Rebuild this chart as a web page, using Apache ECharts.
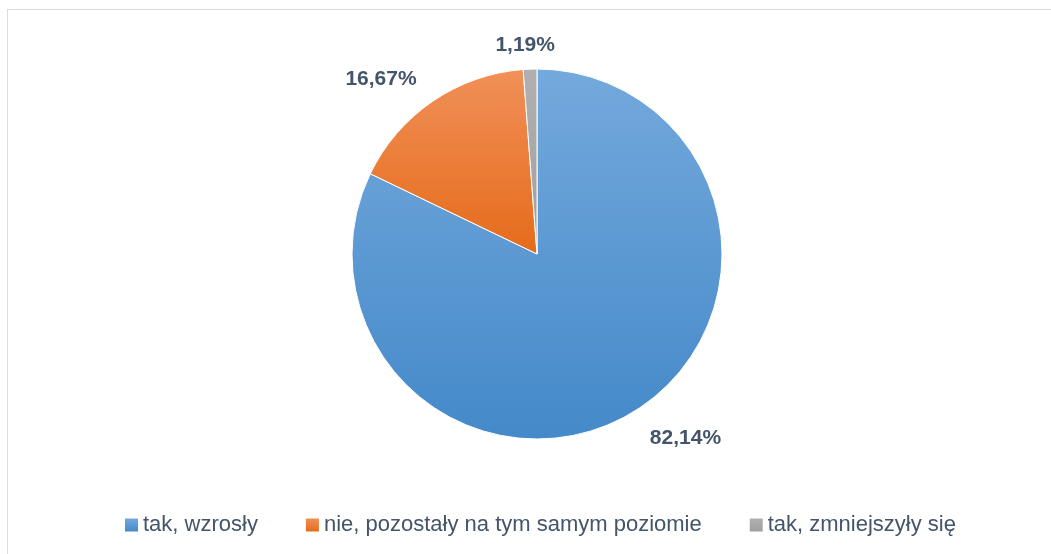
<!DOCTYPE html>
<html>
<head>
<meta charset="utf-8">
<script src="https://cdn.jsdelivr.net/npm/echarts@6/dist/echarts.min.js"></script>
<style>
html,body{margin:0;padding:0;background:#fff;}
#frame{position:absolute;left:7px;top:9px;width:1060px;height:560px;border:1px solid #d9dde3;box-sizing:border-box;}
#chart{position:absolute;left:0;top:0;width:1051px;height:554px;}
</style>
</head>
<body>
<div id="frame"></div>
<div id="chart"></div>
<script>
var categories = ['tak, wzrosły', 'nie, pozostały na tym samym poziomie', 'tak, zmniejszyły się'];
var values = [82.14, 16.67, 1.19];
var labelTexts = ['82,14%', '16,67%', '1,19%'];

var fills = [
  ['#74a9dc', '#4489c9'],
  ['#f19058', '#e56b1a'],
  ['#b0b0b0', '#a0a0a0']
];
var labelLen = [47, 51, 25];
var labelShift = [[20, -12], [-18, 20], [1, 1]];

function grad(i) {
  return new echarts.graphic.LinearGradient(0, 0, 0, 1, [
    {offset: 0, color: fills[i][0]},
    {offset: 1, color: fills[i][1]}
  ]);
}

var chart = echarts.init(document.getElementById('chart'));
var data = categories.map(function (c, i) {
  return {
    name: c,
    value: values[i],
    itemStyle: {color: grad(i)},
    labelLine: {show: false, length: labelLen[i], length2: 0}
  };
});

chart.setOption({
  animation: false,
  legend: {
    top: 509,
    left: 120,
    itemWidth: 13,
    itemHeight: 13,
    itemGap: 48,
    icon: 'rect',
    itemStyle: {borderWidth: 0},
    textStyle: {fontFamily: 'Liberation Sans', fontSize: 22, color: '#44546a', padding: [0, 0, 0, 0]},
    data: categories.map(function (c, i) {
      return {name: c, itemStyle: {color: grad(i), borderWidth: 0}};
    })
  },
  series: [{
    type: 'pie',
    center: [537, 254],
    radius: [0, 185],
    startAngle: 90,
    clockwise: true,
    avoidLabelOverlap: false,
    itemStyle: {borderColor: '#ffffff', borderWidth: 1},
    label: {
      show: true,
      position: 'outside',
      formatter: function (p) { return labelTexts[p.dataIndex]; },
      fontFamily: 'Liberation Sans',
      fontWeight: 'bold',
      fontSize: 21,
      color: '#44546a'
    },
    labelLine: {show: false},
    labelLayout: function (p) {
      var s = labelShift[p.dataIndex];
      return {align: 'center', verticalAlign: 'middle', dx: s[0], dy: s[1]};
    },
    emphasis: {disabled: true},
    data: data
  }]
});
</script>
</body>
</html>
